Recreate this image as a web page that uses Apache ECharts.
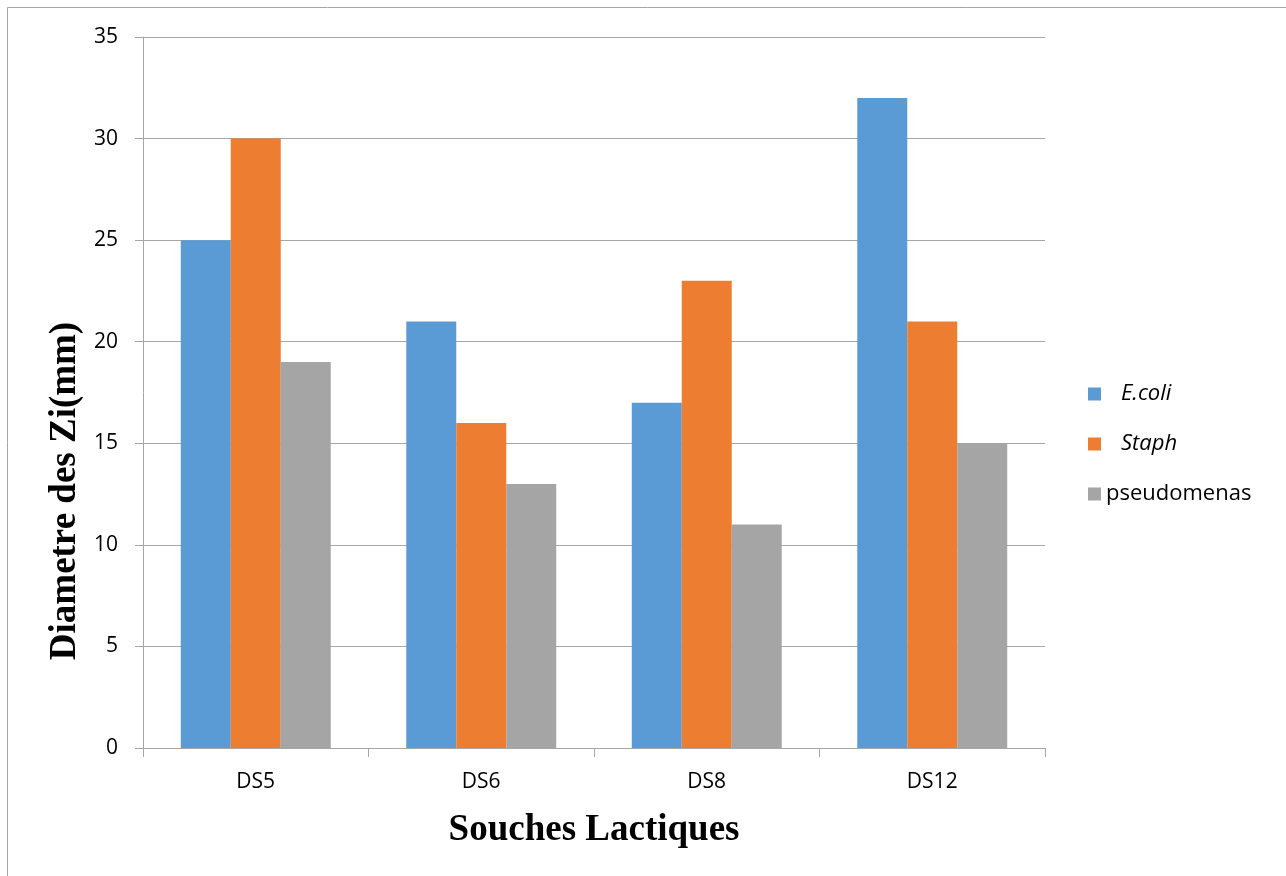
<!DOCTYPE html>
<html>
<head>
<meta charset="utf-8">
<script src="https://cdn.jsdelivr.net/npm/echarts@6/dist/echarts.min.js"></script>
<style>
  html, body { margin: 0; padding: 0; background: #fff; }
  #chart { width: 1286px; height: 876px; }
</style>
</head>
<body>
<div id="chart"></div>
<script>
// Lactic strains and inhibition-zone diameters (mm) per target bacterium
const categories = ['DS5', 'DS6', 'DS8', 'DS12'];
const ecoli = [25, 21, 17, 32];
const staph = [30, 16, 23, 21];
const pseudomenas = [19, 13, 11, 15];
const yTicks = { min: 0, max: 35, interval: 5 };

const labelFont = '"Open Sans", "Liberation Sans", sans-serif';
const titleFont = '"Liberation Serif", "DejaVu Serif", serif';

const chart = echarts.init(document.getElementById('chart'), null, { renderer: 'canvas' });

function legendItem(name, top, left, italic) {
  return {
    data: [name],
    orient: 'vertical',
    left: left,
    top: top,
    icon: 'rect',
    itemWidth: 13,
    itemHeight: 13,
    itemGap: 0,
    textStyle: {
      fontFamily: labelFont,
      fontSize: 22,
      fontStyle: italic ? 'italic' : 'normal',
      color: '#000',
      padding: italic ? [0, 0, 0, 15] : [0, 0, 0, 0]
    },
    selectedMode: false
  };
}

chart.setOption({
  animation: false,
  backgroundColor: '#fff',
  color: ['#5B9BD5', '#ED7D31', '#A5A5A5'],
  grid: { left: 143, right: 241, top: 37, bottom: 128, containLabel: false },
  legend: [
    legendItem('E.coli', 378, 1083, true),
    legendItem('Staph', 428, 1083, true),
    legendItem('pseudomenas', 478, 1083, false)
  ],
  xAxis: {
    type: 'category',
    data: categories,
    axisLine: { lineStyle: { color: '#A6A6A6', width: 1 } },
    axisTick: { show: true, length: 9, lineStyle: { color: '#A6A6A6' }, alignWithLabel: false },
    axisLabel: { fontFamily: labelFont, fontSize: 21, color: '#000', margin: 24 },
    name: 'Souches Lactiques',
    nameLocation: 'middle',
    nameGap: 64,
    nameTextStyle: { fontFamily: titleFont, fontWeight: 'bold', fontSize: 37, color: '#000' }
  },
  yAxis: {
    type: 'value',
    min: yTicks.min,
    max: yTicks.max,
    interval: yTicks.interval,
    axisLine: { show: true, lineStyle: { color: '#A6A6A6', width: 1 } },
    axisTick: { show: true, length: 8, lineStyle: { color: '#A6A6A6' } },
    axisLabel: { fontFamily: labelFont, fontSize: 21, color: '#000', margin: 25 },
    splitLine: { lineStyle: { color: '#A6A6A6', width: 1 } }
  },
  series: [
    { name: 'E.coli', type: 'bar', data: ecoli, barGap: '0%', barCategoryGap: '33.5%' },
    { name: 'Staph', type: 'bar', data: staph, barGap: '0%', barCategoryGap: '33.5%' },
    { name: 'pseudomenas', type: 'bar', data: pseudomenas, barGap: '0%', barCategoryGap: '33.5%' }
  ],
  graphic: [
    {
      type: 'rect',
      shape: { x: 7.5, y: 7.5, width: 1400, height: 1000 },
      style: { fill: 'none', stroke: '#A6A6A6', lineWidth: 1 },
      silent: true,
      z: -10
    },
    {
      type: 'text',
      x: 65,
      y: 491,
      rotation: Math.PI / 2,
      style: {
        text: 'Diametre des Zi(mm)',
        font: 'bold 37px ' + titleFont,
        fill: '#000',
        align: 'center',
        verticalAlign: 'middle'
      }
    }
  ]
});
</script>
</body>
</html>
